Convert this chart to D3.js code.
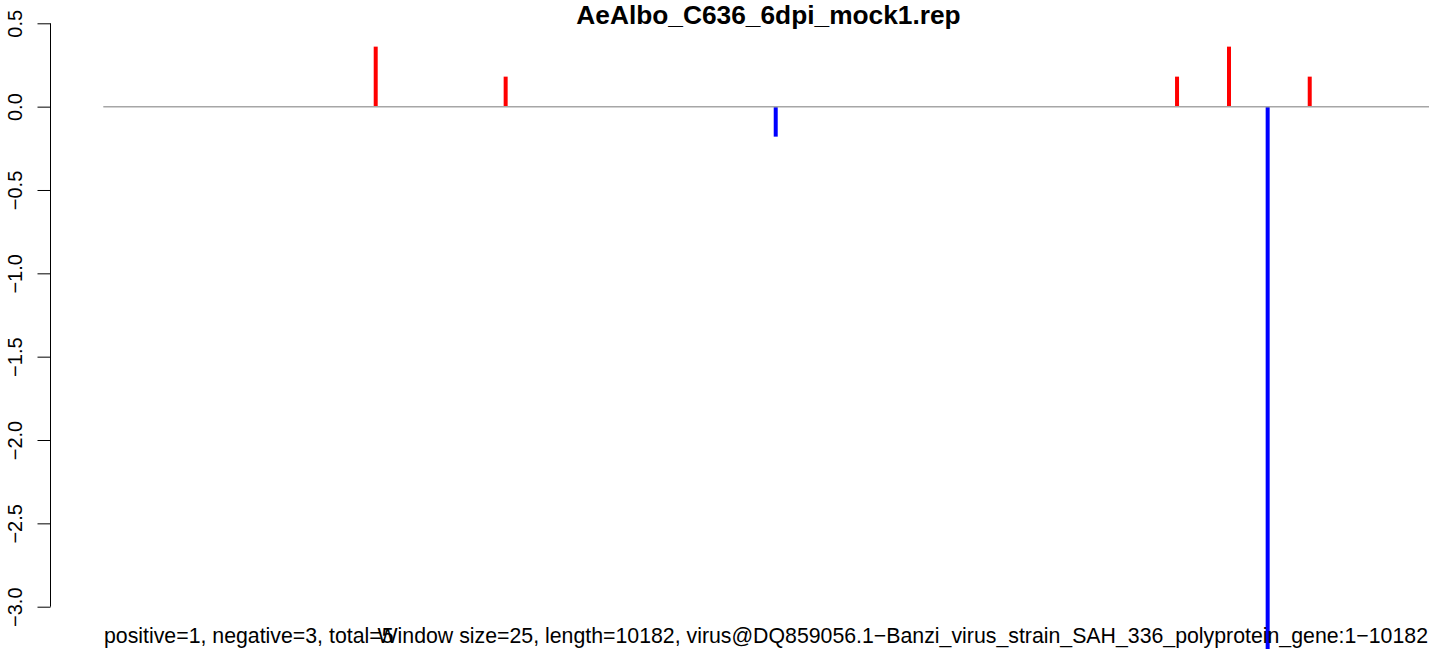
<!DOCTYPE html>
<html>
<head>
<meta charset="utf-8">
<script src="https://cdn.jsdelivr.net/npm/d3@7"></script>
<style>
  html, body { margin: 0; padding: 0; background: #fff; }
  svg { display: block; }
  text { font-family: "Liberation Sans", Arial, sans-serif; }
</style>
</head>
<body>
<svg id="chart" width="1429" height="649"></svg>
<script>
// ---- data ----
const title = "AeAlbo_C636_6dpi_mock1.rep";
const seqLength = 10182;
const positions = [2093, 3091, 5165, 8247, 8646, 8943, 9266];
const values = [0.36, 0.18, -0.18, 0.18, 0.36, -3.3, 0.18];
const yTicks = [0.5, 0.0, -0.5, -1.0, -1.5, -2.0, -2.5, -3.0];
const yTickLabels = ["0.5", "0.0", "\u22120.5", "\u22121.0", "\u22121.5", "\u22122.0", "\u22122.5", "\u22123.0"];
const footerLeft = "positive=1, negative=3, total=5";
const footerRight = "Window size=25, length=10182, virus@DQ859056.1\u2212Banzi_virus_strain_SAH_336_polyprotein_gene:1\u221210182";

// ---- scales ----
const W = 1429, H = 649;
const svg = d3.select("#chart");
const x = d3.scaleLinear().domain([1, seqLength]).range([103.3, 1429]);
const y = d3.scaleLinear().domain([0.5, -3.0]).range([23.3, 606.7]);

// ---- bars (type "h") ----
svg.append("g").selectAll("line")
  .data(positions.map((p, i) => ({ p, v: values[i] })))
  .join("line")
  .attr("x1", d => x(d.p)).attr("x2", d => x(d.p))
  .attr("y1", y(0)).attr("y2", d => y(d.v))
  .attr("stroke", d => d.v >= 0 ? "#ff0000" : "#0000ff")
  .attr("stroke-width", 4);

// ---- zero line ----
svg.append("line")
  .attr("x1", x(1)).attr("x2", x(seqLength))
  .attr("y1", y(0)).attr("y2", y(0))
  .attr("stroke", "#a6a6a6").attr("stroke-width", 1.5);

// ---- y axis ----
const axis = d3.axisLeft(y).tickValues(yTicks)
  .tickFormat((d, i) => yTickLabels[i]).tickSize(13).tickPadding(0);
const gAxis = svg.append("g").attr("transform", "translate(50.5,0)").call(axis);
gAxis.select(".domain").attr("d", `M0,${y(0.5)}V${y(-3.0)}`).attr("stroke", "#000").attr("stroke-width", 1);
gAxis.selectAll(".tick line").attr("stroke", "#000").attr("stroke-width", 1);
gAxis.selectAll(".tick text")
  .attr("font-size", 20)
  .attr("font-family", "Liberation Sans, Arial, sans-serif")
  .attr("fill", "#000")
  .attr("text-anchor", "middle")
  .attr("x", null).attr("dy", null)
  .attr("transform", "translate(-29,0) rotate(-90)");

// ---- title ----
svg.append("text")
  .attr("x", 768.5).attr("y", 24)
  .attr("text-anchor", "middle")
  .attr("font-size", 26.3).attr("font-weight", "bold")
  .text(title);

// ---- footer ----
svg.append("text").attr("x", 104).attr("y", 643)
  .attr("font-size", 21.3).text(footerLeft);
svg.append("text").attr("x", 1428).attr("y", 643)
  .attr("text-anchor", "end")
  .attr("font-size", 21.3).text(footerRight);
</script>
</body>
</html>
